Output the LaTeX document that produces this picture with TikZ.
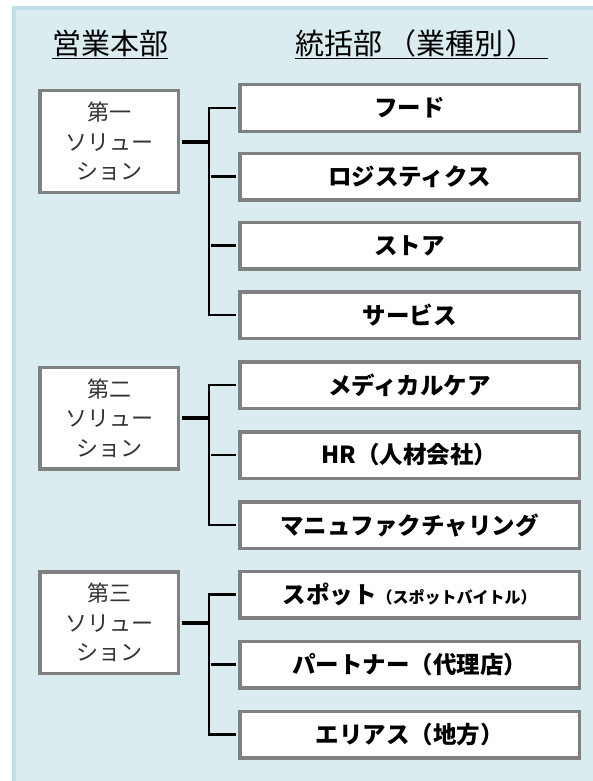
\documentclass[tikz,border=0pt]{standalone}
\usepackage{fontspec}
\setmainfont{Noto Sans CJK JP}
\usetikzlibrary{positioning}
\definecolor{panel}{HTML}{DAECEF}
\definecolor{panelrim}{HTML}{BCDFE5}
\definecolor{boxrim}{HTML}{808080}
\definecolor{soltext}{HTML}{333333}
\tikzset{
  lbox/.style={draw=boxrim, line width=3.5pt, fill=white, minimum width=138.5pt,
    minimum height=101.5pt, align=center, inner sep=0pt, text=soltext,
    font=\fontsize{22}{29.5}\selectfont},
  rbox/.style={draw=boxrim, line width=3.5pt, fill=white, minimum width=339.5pt,
    minimum height=46.5pt, inner sep=0pt, font=\fontsize{23.5}{25}\selectfont\bfseries},
  head/.style={anchor=base west, inner sep=0pt, font=\fontsize{29}{30}\selectfont},
  tie/.style={line width=2.5pt, shorten <=1.75pt, shorten >=1.75pt},
  stub/.style={line width=4pt, shorten <=1.75pt},
  uline/.style={line width=1.5pt}
}

\begin{document}
\begin{tikzpicture}[x=1pt,y=-1pt]
    \useasboundingbox (0,0) rectangle (593,781);
    \fill[panelrim] (12,6) rectangle (593,781);
    \fill[panel] (16,10) rectangle (593,781);
    % headings
    \node[head] (hsales) at (52,55) {営業本部};
    \node[head] (hdiv) at (295,55) {統括部\kern5pt（業種別\kern3pt）};
    \draw[uline] ([yshift=-3.5pt]hsales.base west) -- ([yshift=-3.5pt]hsales.base east);
    \draw[uline] ([yshift=-3.5pt]hdiv.base west) -- ([yshift=-3.5pt,xshift=13pt]hdiv.base east);
    \coordinate (trunk) at (209,0);
    % first solution
    \node[lbox] (sol1) at (109,141.5) {第一\\ソリュー\\ション};
    \foreach \name/\y/\txt in {food/108/フード, logi/176.5/ロジスティクス,
        store/245.5/ストア, serv/315/サービス}
      \node[rbox] (\name) at (409.5,\y) {\txt};
    \draw[tie] (food.west) -- (food.west -| trunk) -- (serv.west -| trunk) -- (serv.west);
    \foreach \name in {logi,store}
      \draw[tie] (\name.west) -- (\name.west -| trunk);
    \draw[stub] (sol1.east) -- (sol1.east -| trunk);
    % second solution
    \node[lbox] (sol2) at (109,418) {第二\\ソリュー\\ション};
    \foreach \name/\y/\txt in {med/385/メディカルケア, hr/455/HR（人材会社）,
        manu/525/マニュファクチャリング}
      \node[rbox] (\name) at (409.5,\y) {\txt};
    \draw[tie] (med.west) -- (med.west -| trunk) -- (manu.west -| trunk) -- (manu.west);
    \draw[tie] (hr.west) -- (hr.west -| trunk);
    \draw[stub] (sol2.east) -- (sol2.east -| trunk);
    % third solution
    \node[lbox] (sol3) at (109,622.5) {第三\\ソリュー\\ション};
    \node[rbox] (spot) at (409.5,594.5) {スポット{\fontsize{16}{16}\selectfont（スポットバイトル）}};
    \foreach \name/\y/\txt in {partner/664.5/パートナー（代理店）, area/734.5/エリアス（地方）}
      \node[rbox] (\name) at (409.5,\y) {\txt};
    \draw[tie] (spot.west) -- (spot.west -| trunk) -- (area.west -| trunk) -- (area.west);
    \draw[tie] (partner.west) -- (partner.west -| trunk);
    \draw[stub] (sol3.east) -- (sol3.east -| trunk);
\end{tikzpicture}
\end{document}
